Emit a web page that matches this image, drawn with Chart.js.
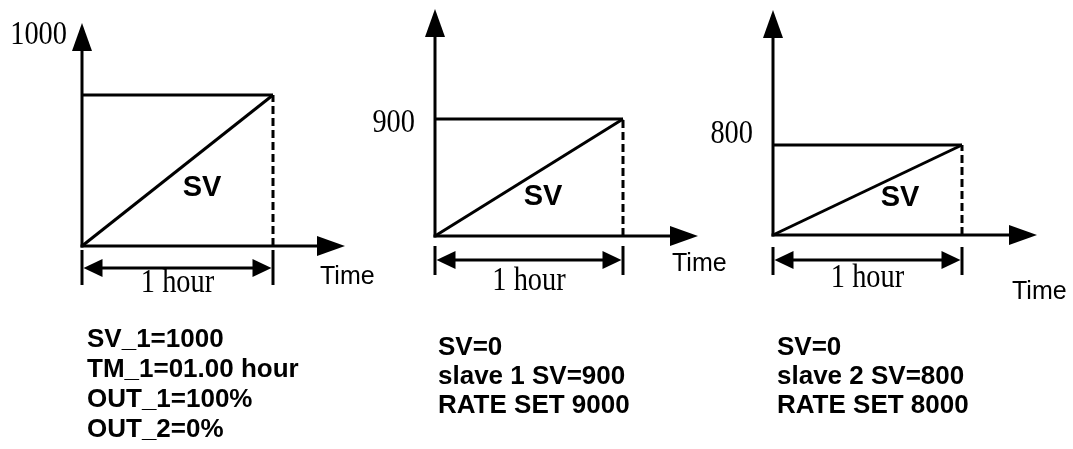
<!DOCTYPE html>
<html>
<head>
<meta charset="utf-8">
<script src="https://cdn.jsdelivr.net/npm/chart.js@4"></script>
<style>
  body { margin: 0; background: #fff; }
  #wrap { position: relative; width: 1073px; height: 449px; overflow: hidden; }
  canvas { position: absolute; top: 0; }
  .note {
    position: absolute;
    font: bold 26px "Liberation Sans", Arial, sans-serif;
    color: #000;
    white-space: pre;
  }
</style>
</head>
<body>
<div id="wrap"></div>
<script>
// Ramp set points: master then the two slaves
const panels = ["master", "slave 1", "slave 2"];
const setValues = [1000, 900, 800];
const rampHours = 1;
const timeLabel = "Time";
const spanLabel = "1 hour";
const rampLabel = "SV";
const notes = [
  ["SV_1=1000", "TM_1=01.00 hour", "OUT_1=100%", "OUT_2=0%"],
  ["SV=0", "slave 1 SV=900", "RATE SET 9000"],
  ["SV=0", "slave 2 SV=800", "RATE SET 8000"]
];

// canvas placement + where the decorations go (pixels inside each canvas)
// canvases overlap a little so the "Time" labels are not cut off
const layouts = [
  { left: 0, width: 420, pad: { left: 82, right: 147, top: 95, bottom: 203 },
    yTip: 23, xTip: 345, tickTop: 250, tickBottom: 285, dimY: 268, hourBase: 292,
    value: [67, 35], sv: [202, 188], time: [320, 277],
    note: { left: 87, top: 323, lh: 30 } },
  { left: 360, width: 400, pad: { left: 75, right: 137, top: 119, bottom: 213 },
    yTip: 9, xTip: 338, tickTop: 246, tickBottom: 275, dimY: 260, hourBase: 290,
    value: [55, 123], sv: [183, 197], time: [312, 264],
    note: { left: 438, top: 332, lh: 29 } },
  { left: 710, width: 363, pad: { left: 63, right: 111, top: 145, bottom: 214 },
    yTip: 10, xTip: 327, tickTop: 247, tickBottom: 275, dimY: 260, hourBase: 287,
    value: [43, 134], sv: [190, 198], time: [302, 292],
    note: { left: 777, top: 332, lh: 29 } }
];

function arrowHead(ctx, tx, ty, dx, dy, len, half) {
  // dx, dy: unit direction the arrow points to
  const bx = tx - dx * len, by = ty - dy * len;
  ctx.beginPath();
  ctx.moveTo(tx, ty);
  ctx.lineTo(bx - dy * half, by + dx * half);
  ctx.lineTo(bx + dy * half, by - dx * half);
  ctx.closePath();
  ctx.fill();
}

function seg(ctx, ax, ay, bx, by) {
  ctx.beginPath();
  ctx.moveTo(ax, ay);
  ctx.lineTo(bx, by);
  ctx.stroke();
}

// narrow, tall serif text (the numbers / "1 hour")
function serifText(ctx, text, px, py, align) {
  ctx.save();
  ctx.translate(px, py);
  ctx.scale(0.86, 1);
  ctx.font = '33px "Liberation Serif", "Times New Roman", serif';
  ctx.textAlign = align;
  ctx.fillText(text, 0, 0);
  ctx.restore();
}

const schematic = {
  id: "schematic",
  afterDatasetsDraw(chart, args, opts) {
    const { ctx } = chart;
    const { x, y } = chart.scales;
    const L = opts.layout;
    const x0 = x.getPixelForValue(0);
    const x1 = x.getPixelForValue(rampHours);
    const y0 = y.getPixelForValue(0);

    ctx.save();
    ctx.strokeStyle = "#000";
    ctx.fillStyle = "#000";
    ctx.lineWidth = 3;
    ctx.lineCap = "butt";

    // axes with arrow heads
    seg(ctx, x0, y0 + 1.5, x0, L.yTip + 20);
    arrowHead(ctx, x0, L.yTip, 0, -1, 28, 10);
    seg(ctx, x0 - 1.5, y0, L.xTip - 20, y0);
    arrowHead(ctx, L.xTip, y0, 1, 0, 28, 10);

    // "1 hour" dimension
    seg(ctx, x0, L.tickTop, x0, L.tickBottom);
    seg(ctx, x1, L.tickTop, x1, L.tickBottom);
    seg(ctx, x0 + 10, L.dimY, x1 - 10, L.dimY);
    arrowHead(ctx, x0 + 1.5, L.dimY, -1, 0, 19, 9);
    arrowHead(ctx, x1 - 1.5, L.dimY, 1, 0, 19, 9);

    // labels
    ctx.textBaseline = "middle";
    serifText(ctx, String(opts.value), L.value[0], L.value[1], "right");
    ctx.textBaseline = "alphabetic";
    serifText(ctx, spanLabel, (x0 + x1) / 2, L.hourBase, "center");

    ctx.font = 'bold 29px "Liberation Sans", Arial, sans-serif';
    ctx.textAlign = "center";
    ctx.textBaseline = "middle";
    ctx.fillText(rampLabel, L.sv[0], L.sv[1]);

    ctx.font = '25px "Liberation Sans", Arial, sans-serif';
    ctx.textAlign = "left";
    ctx.fillText(timeLabel, L.time[0], L.time[1]);
    ctx.restore();
  }
};

const wrap = document.getElementById("wrap");

panels.forEach((name, i) => {
  const L = layouts[i];
  const v = setValues[i];

  const cv = document.createElement("canvas");
  cv.width = L.width;
  cv.height = 449;
  cv.style.left = L.left + "px";
  wrap.appendChild(cv);

  const lineStyle = { borderColor: "#000", borderWidth: 3, pointRadius: 0, showLine: true, clip: false };

  new Chart(cv, {
    type: "scatter",
    data: {
      datasets: [
        { label: name + " SV", data: [{ x: 0, y: v }, { x: rampHours, y: v }], ...lineStyle },
        { label: name + " ramp", data: [{ x: 0, y: 0 }, { x: rampHours, y: v }], ...lineStyle },
        { label: name + " end", data: [{ x: rampHours, y: 0 }, { x: rampHours, y: v }], ...lineStyle, borderDash: [8, 4] }
      ]
    },
    options: {
      responsive: false,
      animation: false,
      events: [],
      layout: { padding: L.pad },
      scales: {
        x: { type: "linear", min: 0, max: rampHours, display: false },
        y: { type: "linear", min: 0, max: v, display: false }
      },
      plugins: {
        legend: { display: false },
        tooltip: { enabled: false },
        schematic: { layout: L, value: v }
      }
    },
    plugins: [schematic]
  });

  const note = document.createElement("div");
  note.className = "note";
  note.style.left = L.note.left + "px";
  note.style.top = L.note.top + "px";
  note.style.lineHeight = L.note.lh + "px";
  note.textContent = notes[i].join("\n");
  wrap.appendChild(note);
});
</script>
</body>
</html>
